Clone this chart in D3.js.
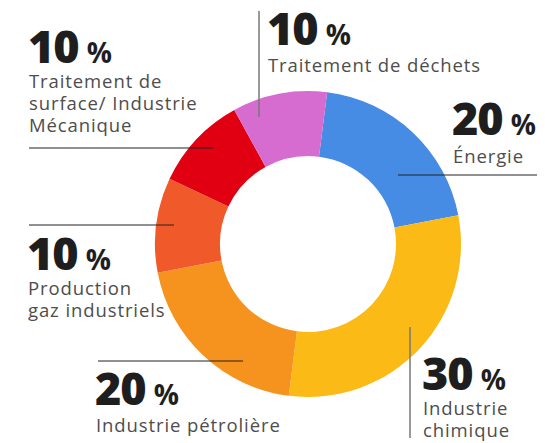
<!DOCTYPE html>
<html>
<head>
<meta charset="utf-8">
<script src="https://cdn.jsdelivr.net/npm/d3@7"></script>
<style>
  html, body { margin: 0; padding: 0; background: #fff; }
  #chart { width: 545px; height: 443px; }
</style>
</head>
<body>
<div id="chart"></div>
<script>
const categories = ["Énergie", "Industrie chimique", "Industrie pétrolière", "Production gaz industriels", "Traitement de surface/ Industrie Mécanique", "Traitement de déchets"];
const shares = [20, 30, 20, 10, 10, 10];
const sliceColors = ["#468be4", "#fbba16", "#f6921e", "#f05a2a", "#e00012", "#d66cd0"];
const labelText = [
    ["Énergie"],
    ["Industrie", "chimique"],
    ["Industrie pétrolière"],
    ["Production", "gaz industriels"],
    ["Traitement de", "surface/ Industrie", "Mécanique"],
    ["Traitement de déchets"]
];

// where each label sits and how its leader line runs
const labelLayout = [
    { x: 452, y: 135, dy: 28, line: [[398, 175], [537, 175]], stroke: "#222" },
    { x: 422, y: 390, dy: 25, line: [[410, 327], [410, 438]], stroke: "#777" },
    { x: 95, y: 405, dy: 27, line: [[98, 361], [243, 361]], stroke: "#222" },
    { x: 27, y: 270, dy: 25, line: [[29, 225], [174, 225]], stroke: "#222" },
    { x: 28, y: 63, dy: 25, line: [[29, 148], [213, 148]], stroke: "#222" },
    { x: 267, y: 45, dy: 27, line: [[259, 11], [259, 117]], stroke: "#777" }
];

const width = 545;
const height = 443;
const cx = 308;
const cy = 244;
const outerR = 153;
const innerR = 88;
const rotation = 7.2 * Math.PI / 180;

const svg = d3.select("#chart")
    .append("svg")
    .attr("width", width)
    .attr("height", height);

const pie = d3.pie()
    .sort(null)
    .value(d => d)
    .startAngle(rotation)
    .endAngle(rotation + 2 * Math.PI);

const arc = d3.arc()
    .innerRadius(innerR)
    .outerRadius(outerR);

const color = d3.scaleOrdinal()
    .domain(categories)
    .range(sliceColors);

const donut = svg.append("g")
    .attr("transform", `translate(${cx}, ${cy})`);

donut.selectAll("path")
    .data(pie(shares))
    .enter()
    .append("path")
    .attr("d", arc)
    .attr("fill", (d, i) => color(categories[i]));

// leader lines
svg.selectAll(".leader")
    .data(labelLayout)
    .enter()
    .append("line")
    .attr("class", "leader")
    .attr("x1", d => d.line[0][0])
    .attr("y1", d => d.line[0][1])
    .attr("x2", d => d.line[1][0])
    .attr("y2", d => d.line[1][1])
    .attr("stroke", d => d.stroke)
    .attr("stroke-width", d => d.stroke === "#777" ? 1.5 : 1);

for (let i = 0; i < categories.length; i++) {
    const pos = labelLayout[i];

    const big = svg.append("text")
        .attr("x", pos.x)
        .attr("y", pos.y)
        .attr("fill", "#1e1e1e")
        .attr("font-family", "'Open Sans', sans-serif");

    big.append("tspan")
        .attr("font-size", "45px")
        .attr("font-weight", "800")
        .attr("letter-spacing", "-1px")
        .text(shares[i]);

    big.append("tspan")
        .attr("dx", "8")
        .attr("font-size", "28px")
        .attr("font-weight", "bold")
        .text("%");

    const label = svg.append("text")
        .attr("x", pos.x + 1)
        .attr("y", pos.y + pos.dy)
        .attr("fill", "#4d4d4d")
        .attr("font-family", "'Open Sans', sans-serif")
        .attr("font-size", "18.5px")
        .attr("letter-spacing", "0.9px");

    labelText[i].forEach((line, j) => {
        label.append("tspan")
            .attr("x", pos.x + 1)
            .attr("dy", j === 0 ? 0 : 22)
            .text(line);
    });
}
</script>
</body>
</html>
